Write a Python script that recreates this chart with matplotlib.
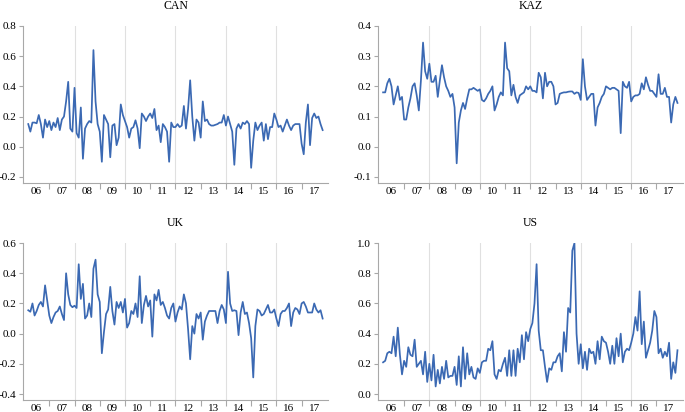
import matplotlib
matplotlib.use("Agg")
import matplotlib.pyplot as plt
import numpy as np
from matplotlib.ticker import FixedLocator, FuncFormatter

plt.rcParams["font.family"] = ["Liberation Serif", "DejaVu Serif"]

# monthly values, Mar 2006 - Nov 2017
can = [
    0.15, 0.10, 0.16, 0.16, 0.155, 0.21, 0.15, 0.06, 0.18, 0.13,
    0.17, 0.11, 0.16, 0.13, 0.19, 0.11, 0.18, 0.20, 0.30, 0.43, 0.12, 0.10,
    0.39, 0.09, 0.06, 0.26, -0.08, 0.12, 0.15, 0.17, 0.16, 0.64, 0.30, 0.15,
    0.10, -0.10, 0.21, 0.18, 0.15, -0.07, 0.14, 0.15, 0.01, 0.06, 0.28, 0.21,
    0.17, 0.13, 0.06, 0.12, 0.13, 0.175, 0.12, -0.01, 0.22, 0.20, 0.17, 0.20,
    0.22, 0.19, 0.25, 0.11, 0.14, 0.03, 0.15, 0.13, 0.10, -0.10, 0.16, 0.13,
    0.13, 0.15, 0.13, 0.14, 0.27, 0.12, 0.25, 0.44, 0.20, 0.04, 0.18, 0.16,
    0.06, 0.30, 0.17, 0.18, 0.15, 0.14, 0.14, 0.145, 0.15, 0.16, 0.16, 0.21,
    0.14, 0.20, 0.15, 0.10, -0.12, 0.12, 0.15, 0.12, 0.16, 0.15, 0.17, 0.15,
    -0.14, 0.04, 0.16, 0.11, 0.14, 0.16, 0.04, 0.15, 0.05, 0.13, 0.13, 0.22,
    0.18, 0.13, 0.14, 0.10, 0.14, 0.18, 0.14, 0.11, 0.14, 0.15, 0.15, 0.15,
    0.02, -0.05, 0.16, 0.28, 0.01, 0.19, 0.22, 0.19, 0.20, 0.15, 0.11,
]

kaz = [
    0.18, 0.18, 0.21, 0.225, 0.20, 0.14, 0.17, 0.20, 0.155, 0.165,
    0.09, 0.09, 0.13, 0.16, 0.20, 0.21, 0.17, 0.12, 0.22, 0.345, 0.25, 0.225,
    0.275, 0.215, 0.215, 0.235, 0.165, 0.22, 0.27, 0.23, 0.20, 0.185, 0.165, 0.175,
    0.13, -0.055, 0.08, 0.12, 0.145, 0.125, 0.16, 0.19, 0.19, 0.195, 0.19, 0.185,
    0.19, 0.155, 0.15, 0.16, 0.175, 0.185, 0.20, 0.12, 0.14, 0.165, 0.18, 0.17,
    0.345, 0.26, 0.25, 0.17, 0.205, 0.165, 0.145, 0.17, 0.175, 0.18, 0.20, 0.19,
    0.20, 0.185, 0.185, 0.18, 0.245, 0.23, 0.16, 0.245, 0.20, 0.215, 0.215, 0.20,
    0.14, 0.145, 0.175, 0.178, 0.18, 0.18, 0.182, 0.183, 0.183, 0.175, 0.18, 0.178,
    0.155, 0.29, 0.20, 0.155, 0.165, 0.175, 0.175, 0.07, 0.13, 0.145, 0.165, 0.175,
    0.20, 0.195, 0.19, 0.195, 0.195, 0.19, 0.185, 0.045, 0.215, 0.20, 0.195, 0.215,
    0.15, 0.165, 0.17, 0.17, 0.175, 0.21, 0.19, 0.23, 0.205, 0.185, 0.185, 0.175,
    0.165, 0.24, 0.175, 0.175, 0.195, 0.165, 0.165, 0.08, 0.14, 0.165, 0.145,
]

uk = [
    0.155, 0.145, 0.20, 0.12, 0.15, 0.19, 0.21, 0.18, 0.32, 0.22,
    0.12, 0.07, 0.11, 0.14, 0.15, 0.18, 0.13, 0.09, 0.40, 0.26, 0.19, 0.175,
    0.185, 0.17, 0.46, 0.23, 0.33, 0.10, 0.12, 0.20, 0.11, 0.43, 0.49, 0.26,
    0.21, -0.13, 0.01, 0.13, 0.16, 0.31, 0.15, 0.06, 0.21, 0.17, 0.21, 0.14,
    0.23, 0.04, 0.07, 0.15, 0.13, 0.20, 0.11, 0.38, 0.07, 0.19, 0.25, 0.18,
    0.22, -0.02, 0.26, 0.22, 0.29, 0.19, 0.21, 0.17, 0.12, 0.10, 0.17, 0.20,
    0.08, 0.14, 0.18, 0.16, 0.26, 0.20, 0.03, -0.17, 0.05, 0.00, 0.13, 0.10,
    0.14, -0.04, 0.08, 0.12, 0.15, 0.15, 0.15, 0.15, 0.07, 0.15, 0.19, 0.16,
    0.07, 0.41, 0.20, 0.15, 0.155, 0.15, -0.01, 0.14, 0.21, 0.13, 0.14, 0.07,
    -0.03, -0.29, 0.05, 0.16, 0.15, 0.12, 0.13, 0.16, 0.19, 0.14, 0.14, 0.16,
    0.10, 0.05, 0.13, 0.15, 0.15, 0.17, 0.20, 0.05, 0.14, 0.17, 0.16, 0.13,
    0.20, 0.21, 0.18, 0.14, 0.14, 0.14, 0.20, 0.16, 0.14, 0.155, 0.10,
]

us = [
    0.21, 0.22, 0.27, 0.28, 0.27, 0.38, 0.25, 0.44, 0.26, 0.13,
    0.22, 0.18, 0.31, 0.26, 0.25, 0.36, 0.18, 0.20, 0.22, 0.13, 0.28, 0.08,
    0.20, 0.09, 0.26, 0.05, 0.16, 0.07, 0.18, 0.10, 0.22, 0.11, 0.12, 0.12,
    0.18, 0.06, 0.25, 0.05, 0.31, 0.10, 0.27, 0.13, 0.18, 0.11, 0.10, 0.17,
    0.14, 0.21, 0.22, 0.22, 0.30, 0.29, 0.35, 0.13, 0.10, 0.16, 0.15, 0.20,
    0.24, 0.12, 0.29, 0.12, 0.29, 0.12, 0.30, 0.21, 0.39, 0.23, 0.41, 0.35,
    0.43, 0.47, 0.60, 0.86, 0.42, 0.29, 0.29, 0.18, 0.08, 0.17, 0.16, 0.21,
    0.21, 0.25, 0.27, 0.15, 0.41, 0.28, 0.57, 0.54, 0.95, 1.00, 0.40, 0.20,
    0.33, 0.17, 0.28, 0.16, 0.30, 0.27, 0.28, 0.20, 0.35, 0.23, 0.38, 0.35,
    0.34, 0.28, 0.20, 0.32, 0.20, 0.37, 0.25, 0.40, 0.21, 0.28, 0.30, 0.29,
    0.34, 0.40, 0.51, 0.42, 0.68, 0.33, 0.48, 0.24, 0.29, 0.34, 0.42, 0.55,
    0.51, 0.27, 0.30, 0.24, 0.28, 0.25, 0.34, 0.10, 0.21, 0.14, 0.29,
]

years = list(range(2006, 2018))
year_labels = [f"{y % 100:02d}" for y in years]

panels = [
    ("CAN", can, (-0.24, 0.8), [-0.2, 0.0, 0.2, 0.4, 0.6, 0.8]),
    ("KAZ", kaz, (-0.12, 0.4), [-0.1, 0.0, 0.1, 0.2, 0.3, 0.4]),
    ("UK", uk, (-0.44, 0.6), [-0.4, -0.2, 0.0, 0.2, 0.4, 0.6]),
    ("US", us, (-0.04, 1.0), [0.0, 0.2, 0.4, 0.6, 0.8, 1.0]),
]

positions = [
    [0.034, 0.556, 0.445, 0.381],
    [0.552, 0.556, 0.445, 0.381],
    [0.034, 0.029, 0.445, 0.381],
    [0.552, 0.029, 0.445, 0.381],
]

line_color = "#3b69b3"
axis_color = "#a8a8a8"

fig = plt.figure(figsize=(6.85, 4.12), dpi=100)

for (name, vals, ylim, yticks), pos in zip(panels, positions):
    ax = fig.add_axes(pos)
    t = 2006 + (2 + np.arange(len(vals))) / 12.0
    ax.plot(t, vals, color=line_color, lw=1.25)

    ax.set_xlim(2005.97, 2018.05)
    ax.set_ylim(*ylim)

    for g in [2008, 2010, 2012, 2014, 2016]:
        ax.axvline(g, color="#e0e0e0", lw=0.8, zorder=0)

    ax.xaxis.set_major_locator(FixedLocator(years[1:]))
    ax.xaxis.set_major_formatter(FuncFormatter(lambda v, p: ""))
    ax.set_xticks([y + 0.5 for y in years], labels=year_labels, minor=True)
    ax.tick_params(axis="x", which="major", length=4, color=axis_color)
    ax.tick_params(axis="x", which="minor", length=0, labelsize=8, pad=3)

    ax.set_yticks(yticks)
    ax.yaxis.set_major_formatter(FuncFormatter(lambda v, p: f"{v:.1f}".replace("\u2212", "-")))
    ax.tick_params(axis="y", length=3, color=axis_color, labelsize=8, pad=2)

    for s in ["top", "right"]:
        ax.spines[s].set_visible(False)
    for s in ["left", "bottom"]:
        ax.spines[s].set_color(axis_color)
        ax.spines[s].set_linewidth(0.8)

    ax.set_title(name, fontsize=8.5, pad=12)

fig.savefig("out.png", dpi=100)
